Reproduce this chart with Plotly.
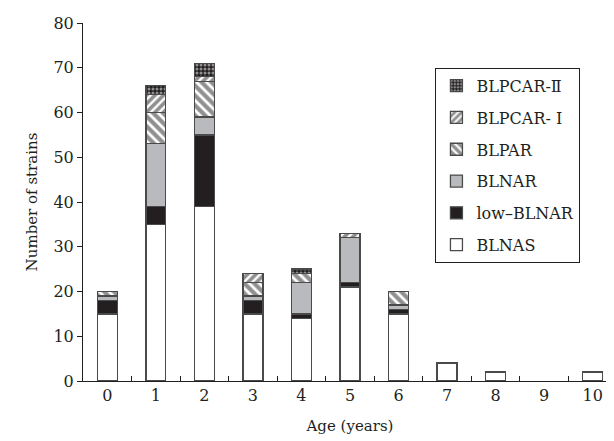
import plotly.graph_objects as go

ages = ["0", "1", "2", "3", "4", "5", "6", "7", "8", "9", "10"]
blnas = [15, 35, 39, 15, 14, 21, 15, 4, 2, 0, 2]
low_blnar = [3, 4, 16, 3, 1, 1, 1, 0, 0, 0, 0]
blnar = [1, 14, 4, 1, 7, 10, 1, 0, 0, 0, 0]
blpar = [1, 7, 8, 3, 2, 0, 3, 0, 0, 0, 0]
blpcar_1 = [0, 4, 1, 2, 0, 1, 0, 0, 0, 0, 0]
blpcar_2 = [0, 2, 3, 0, 1, 0, 0, 0, 0, 0, 0]

series = [
    ("BLNAS", blnas, dict(color="white")),
    ("low–BLNAR", low_blnar, dict(color="#231f20")),
    ("BLNAR", blnar, dict(color="#b9babe")),
    ("BLPAR", blpar, dict(color="white", pattern=dict(shape="\\", fgcolor="#231f20", bgcolor="white", size=7, solidity=0.6))),
    ("BLPCAR- Ⅰ", blpcar_1, dict(color="white", pattern=dict(shape="/", fgcolor="#231f20", bgcolor="white", size=6, solidity=0.6))),
    ("BLPCAR-Ⅱ", blpcar_2, dict(color="#231f20", pattern=dict(shape=".", fgcolor="white", bgcolor="#231f20", size=4, solidity=0.45))),
]

fig = go.Figure()
for i, (name, vals, mk) in enumerate(series):
    mk = dict(mk)
    mk["line"] = dict(color="#4a4a4a", width=1.3)
    fig.add_trace(go.Bar(
        x=ages, y=[v if v else None for v in vals], name=name,
        marker=mk, width=0.41, legendgroup=f"g{i}", legendrank=1000 - i * 10,
    ))

font_family = "DejaVu Serif"
fig.update_layout(
    barmode="stack",
    width=614, height=441,
    margin=dict(l=75, r=5, t=15, b=68),
    paper_bgcolor="white", plot_bgcolor="white",
    font=dict(family=font_family, color="#231f20", size=16),
    showlegend=True,
    legend=dict(
        x=0.66, y=0.875, xanchor="left", yanchor="top",
        bordercolor="#231f20", borderwidth=1, bgcolor="white",
        font=dict(family=font_family, size=16, color="#231f20"),
        traceorder="grouped", tracegroupgap=8,
        itemwidth=30,
    ),
    xaxis=dict(
        type="category", showline=True, linecolor="#231f20", linewidth=1,
        ticks="inside", tickson="boundaries", ticklen=5, tickcolor="#231f20",
        showgrid=False, range=[-0.5, 10.5],
        title=dict(text="Age (years)", font=dict(size=15), standoff=16),
        tickfont=dict(size=16),
    ),
    yaxis=dict(
        range=[0, 80], dtick=10, showline=True, linecolor="#231f20", linewidth=1,
        ticks="outside", ticklen=5, tickcolor="#231f20", showgrid=False,
        zeroline=False,
        title=dict(text="Number of strains", font=dict(size=15), standoff=12),
        tickfont=dict(size=16),
    ),
)

fig.write_html("out.html")
